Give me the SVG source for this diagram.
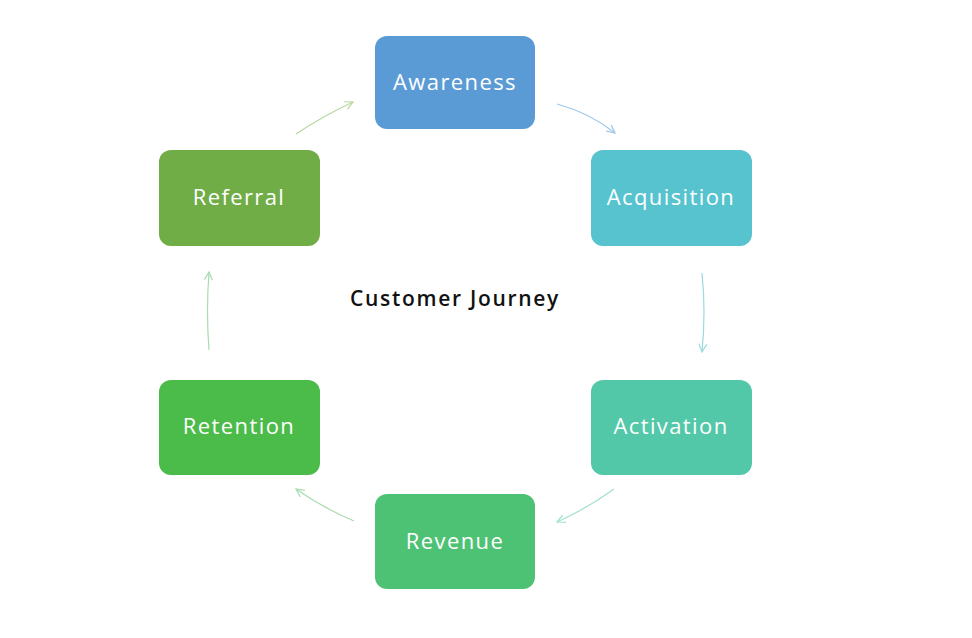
<svg xmlns="http://www.w3.org/2000/svg" width="972" height="638" viewBox="0 0 972 638">
<style>
.box{stroke:none}
.lbl{font-family:"Open Sans","Noto Sans",sans-serif;font-size:22px;font-weight:500;fill:#ffffff;text-anchor:middle;dominant-baseline:central;letter-spacing:1.4px}
.title{font-family:"Open Sans","Noto Sans",sans-serif;font-size:21px;font-weight:600;fill:#111111;text-anchor:middle;dominant-baseline:central;letter-spacing:1.7px}
.c{fill:none;stroke-width:1.2}
</style>
<defs>
<marker id="ab" viewBox="0 0 10 10" refX="9" refY="5" markerWidth="10" markerHeight="10" markerUnits="userSpaceOnUse" orient="auto"><path d="M1,1 L9,5 L1,9" fill="none" stroke="#9dc6e8" stroke-width="1.2"/></marker>
<marker id="ac" viewBox="0 0 10 10" refX="9" refY="5" markerWidth="10" markerHeight="10" markerUnits="userSpaceOnUse" orient="auto"><path d="M1,1 L9,5 L1,9" fill="none" stroke="#9ad9e0" stroke-width="1.2"/></marker>
<marker id="at" viewBox="0 0 10 10" refX="9" refY="5" markerWidth="10" markerHeight="10" markerUnits="userSpaceOnUse" orient="auto"><path d="M1,1 L9,5 L1,9" fill="none" stroke="#a3e0cd" stroke-width="1.2"/></marker>
<marker id="ag" viewBox="0 0 10 10" refX="9" refY="5" markerWidth="10" markerHeight="10" markerUnits="userSpaceOnUse" orient="auto"><path d="M1,1 L9,5 L1,9" fill="none" stroke="#a8dcae" stroke-width="1.2"/></marker>
<marker id="ar" viewBox="0 0 10 10" refX="9" refY="5" markerWidth="10" markerHeight="10" markerUnits="userSpaceOnUse" orient="auto"><path d="M1,1 L9,5 L1,9" fill="none" stroke="#b5d8a0" stroke-width="1.2"/></marker>
</defs>
<rect width="972" height="638" fill="#ffffff"/>
<g id="connectors">
<path class="c" stroke="#9dc6e8" d="M557,104 Q590,113 615,133" marker-end="url(#ab)"/>
<path class="c" stroke="#9ad9e0" d="M702,273 Q706,312 702,352" marker-end="url(#ac)"/>
<path class="c" stroke="#a3e0cd" d="M614,489 Q588,508 557,522" marker-end="url(#at)"/>
<path class="c" stroke="#a8dcae" d="M354,521 Q323,508 296,489" marker-end="url(#ag)"/>
<path class="c" stroke="#a8dcae" d="M209,350 Q206,312 209,272" marker-end="url(#ag)"/>
<path class="c" stroke="#b5d8a0" d="M296,134 Q323,116 353,102" marker-end="url(#ar)"/>
</g>
<g id="awareness"><rect class="box" x="375" y="36" width="160" height="93" rx="12" fill="#5b9bd5"/><text class="lbl" x="455" y="81">Awareness</text></g>
<g id="acquisition"><rect class="box" x="591" y="150" width="161" height="96" rx="12" fill="#56c3cf"/><text class="lbl" x="671" y="196">Acquisition</text></g>
<g id="activation"><rect class="box" x="591" y="380" width="161" height="95" rx="12" fill="#52c8a8"/><text class="lbl" x="671" y="425">Activation</text></g>
<g id="revenue"><rect class="box" x="375" y="494" width="160" height="95" rx="12" fill="#4ec274"/><text class="lbl" x="455" y="540">Revenue</text></g>
<g id="retention"><rect class="box" x="159" y="380" width="161" height="95" rx="12" fill="#4bbb4a"/><text class="lbl" x="239" y="425">Retention</text></g>
<g id="referral"><rect class="box" x="159" y="150" width="161" height="96" rx="12" fill="#70ad47"/><text class="lbl" x="239" y="196">Referral</text></g>
<text class="title" x="455" y="298">Customer Journey</text>
</svg>
